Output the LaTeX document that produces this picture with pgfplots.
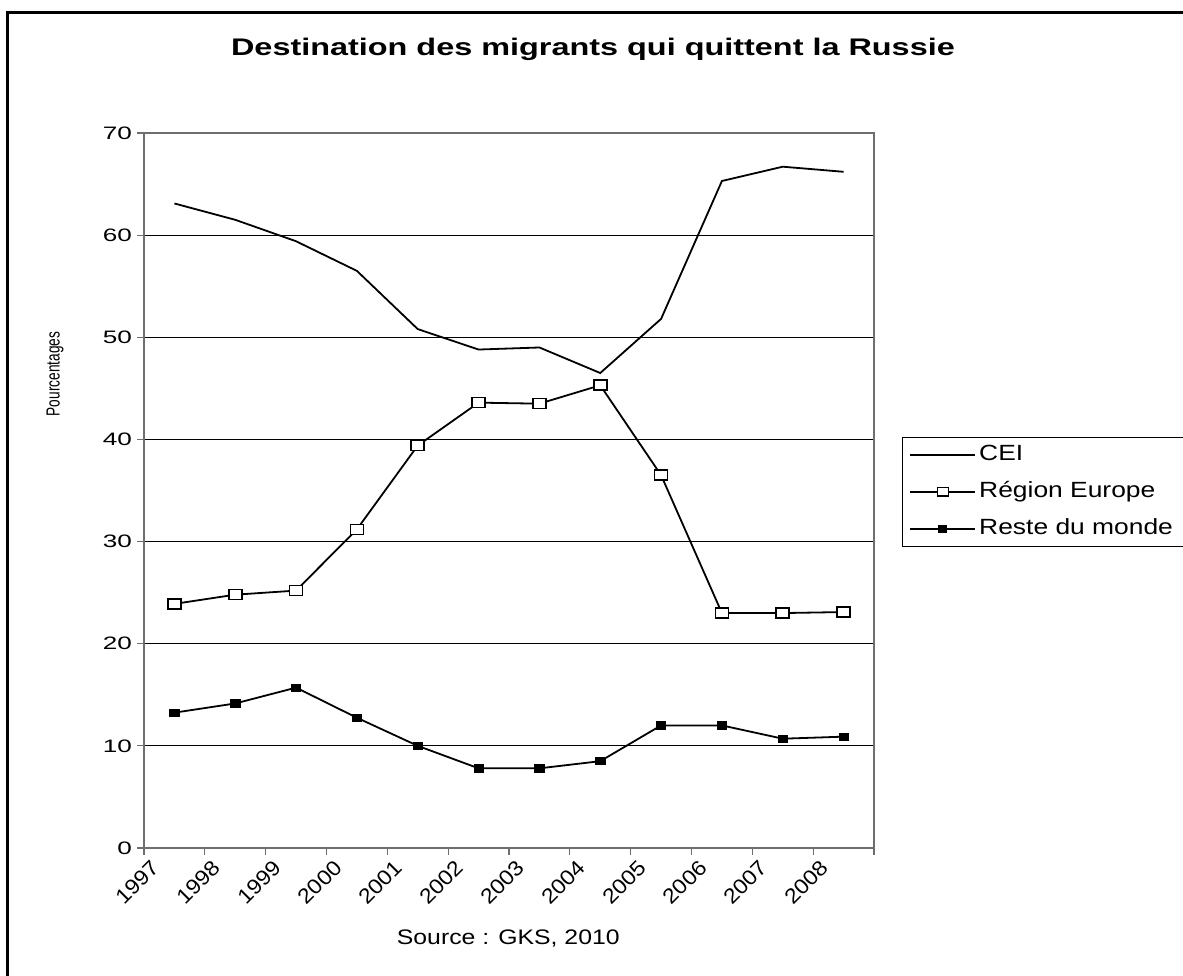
\documentclass[border=0pt]{standalone}
\usepackage{fontspec}
\setmainfont{Liberation Sans}
\newfontfamily\tickfont[FakeStretch=1.45]{Liberation Sans}
\newfontfamily\xtickfont[FakeStretch=1.1]{Liberation Sans}
\newfontfamily\legfont[FakeStretch=1.2]{Liberation Sans}
\newfontfamily\srcfont[FakeStretch=1.18]{Liberation Sans}
\newfontfamily\titlefont[FakeStretch=1.35]{Liberation Sans}
\newfontfamily\ylabfont[FakeStretch=0.72]{Liberation Sans}
\usepackage{pgfplots}
\pgfplotsset{compat=1.18}
\definecolor{axgray}{RGB}{110,110,110}
\begin{document}
\begin{tikzpicture}[x=1pt,y=1pt]
\useasboundingbox (0,0) rectangle (1183,976);
\draw[line width=3pt] (7,-10) -- (7,963) -- (1200,963);
\begin{axis}[
  at={(144pt,128pt)}, anchor=south west,
  width=730pt, height=715pt, scale only axis,
  xmin=0, xmax=12, ymin=0, ymax=70,
  xtick={0,1,...,12},
  xticklabels={1997,1998,1999,2000,2001,2002,2003,2004,2005,2006,2007,2008,{}},
  ytick={0,10,...,70},
  xtick pos=left, ytick pos=left,
  tick align=outside,
  major tick length=7pt,
  tick style={axgray, line width=1.2pt},
  axis line style={axgray, line width=1.6pt},
  ymajorgrids,
  major grid style={black, line width=0.8pt},
  /pgf/number format/assume math mode=true,
  yticklabel style={font=\tickfont\fontsize{18}{20}\selectfont, inner sep=2pt, xshift=-3pt},
  xticklabel style={font=\xtickfont\fontsize{21}{23}\selectfont, rotate=45, anchor=north east, inner sep=1pt, yshift=-6pt, xshift=3pt},
  ylabel={\ylabfont\fontsize{19}{21}\selectfont Pourcentages},
  ylabel style={at={(axis description cs:-0.122,0.663)}, anchor=center, rotate=0},
  title={\titlefont\fontsize{24}{28}\selectfont\bfseries Destination des migrants qui quittent la Russie},
  title style={at={(axis description cs:0.615,1.109)}, anchor=center},
  legend style={at={(axis description cs:1.0384,0.5748)}, anchor=north west,
    draw=black, line width=0.8pt, fill=white, inner xsep=7pt, inner ysep=4pt,
    row sep=10pt, cells={anchor=west}, font=\legfont\fontsize{22}{24}\selectfont,
    nodes={inner sep=3pt, text height=16pt, text depth=5pt}},
  legend image code/.code={\draw[mark repeat=2, mark phase=2, #1, /tikz/every mark/.append style={scale=0.85}] plot coordinates {(0pt,0pt) (32.5pt,0pt) (65pt,0pt)};},
  clip=false,
]
\addplot[black, line width=1.8pt, no markers] coordinates {
 (0.5,63.1) (1.5,61.5) (2.5,59.4) (3.5,56.5) (4.5,50.8) (5.5,48.8)
 (6.5,49.0) (7.5,46.5) (8.5,51.8) (9.5,65.3) (10.5,66.7) (11.5,66.2)};
\addlegendentry{CEI}
\addplot[black, line width=1.8pt, mark=square*, mark size=5pt,
  mark options={fill=white, draw=black, line width=1.6pt, xscale=1.3}] coordinates {
 (0.5,23.9) (1.5,24.8) (2.5,25.2) (3.5,31.2) (4.5,39.4) (5.5,43.6)
 (6.5,43.5) (7.5,45.3) (8.5,36.5) (9.5,23.0) (10.5,23.0) (11.5,23.1)};
\addlegendentry{Région Europe}
\addplot[black, line width=1.8pt, mark=square*, mark size=3.6pt,
  mark options={fill=black, draw=black, line width=0.8pt, xscale=1.3}] coordinates {
 (0.5,13.25) (1.5,14.15) (2.5,15.7) (3.5,12.75) (4.5,10.0) (5.5,7.8)
 (6.5,7.8) (7.5,8.5) (8.5,12.0) (9.5,12.0) (10.5,10.7) (11.5,10.9)};
\addlegendentry{Reste du monde}
\node[font=\srcfont\fontsize{21}{24}\selectfont, anchor=center] at (axis description cs:0.499,-0.127) {Source : GKS, 2010};
\end{axis}
\end{tikzpicture}
\end{document}
